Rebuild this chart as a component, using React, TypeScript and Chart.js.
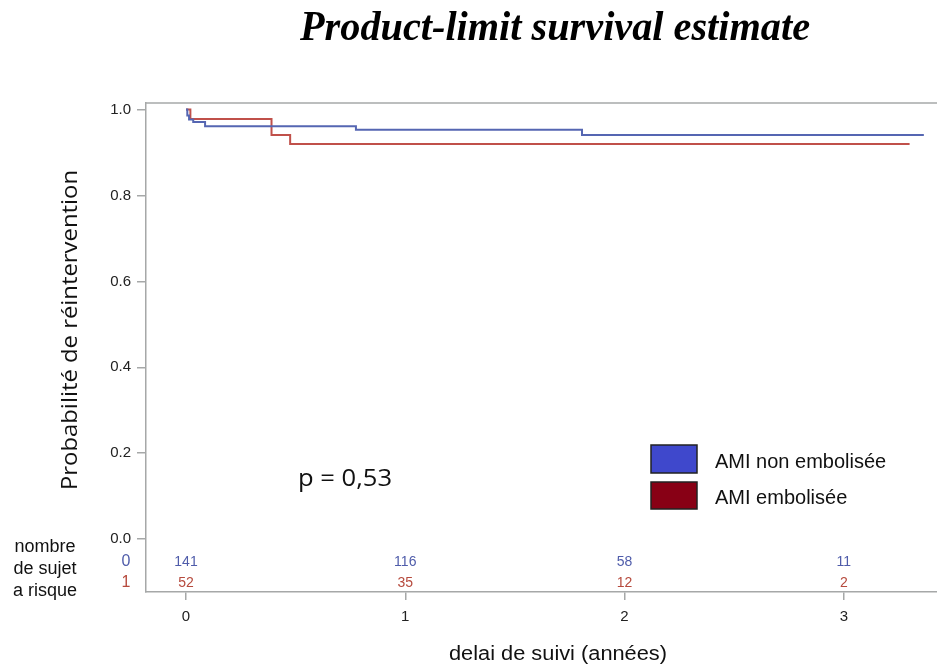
import { useEffect, useRef } from 'react';
import { Chart, registerables } from 'chart.js';
Chart.register(...registerables);

const W = 937;
const H = 670;

// Kaplan-Meier step data (time in years, survival probability)
const blueTimes = [0, 0.006, 0.014, 0.033, 0.087, 0.775, 1.806, 3.365];
const blueSurv = [1.0, 0.986, 0.977, 0.971, 0.961, 0.953, 0.941, 0.941];
const redTimes = [0, 0.02, 0.39, 0.475, 3.3];
const redSurv = [1.0, 0.978, 0.941, 0.92, 0.92];

const seriesLabels = ['AMI non embolisée', 'AMI embolisée'];
const groupCodes = ['0', '1'];

// Number at risk
const riskTimes = [0, 1, 2, 3];
const riskBlue = [141, 116, 58, 11];
const riskRed = [52, 35, 12, 2];

const yTicks = [0, 0.2, 0.4, 0.6, 0.8, 1.0];

const lineColors = ['#5566b2', '#c0504a'];
const riskColors = ['#4f5caa', '#b64a3d'];
const legendColors = ['#3f48cc', '#880015'];
const axisColor = '#a6a8a8';

const SANS = '"Liberation Sans", Arial, sans-serif';
const OPEN = '"Open Sans", "Noto Sans", sans-serif';
const SERIF = '"Liberation Serif", "Times New Roman", serif';

function fitText(ctx: CanvasRenderingContext2D, text: string, cx: number, cy: number, targetW: number, rotate = 0) {
  const w = ctx.measureText(text).width;
  const sx = targetW / w;
  ctx.save();
  ctx.translate(cx, cy);
  if (rotate) ctx.rotate(rotate);
  ctx.scale(sx, 1);
  ctx.textAlign = 'center';
  ctx.textBaseline = 'middle';
  ctx.fillText(text, 0, 0);
  ctx.restore();
}

const decorPlugin = {
  id: 'decor',
  afterDraw(chart: any) {
    const ctx: CanvasRenderingContext2D = chart.ctx;
    const area = chart.chartArea;
    const xs = chart.scales.x;
    ctx.save();

    // top frame line
    ctx.strokeStyle = axisColor;
    ctx.lineWidth = 1.5;
    ctx.beginPath();
    ctx.moveTo(area.left, area.top);
    ctx.lineTo(W, area.top);
    ctx.stroke();

    // title
    ctx.fillStyle = '#000';
    ctx.font = `italic bold 43px ${SERIF}`;
    fitText(ctx, 'Product-limit survival estimate', 555, 29, 510);

    // y title
    ctx.fillStyle = '#111';
    ctx.font = `22px ${OPEN}`;
    fitText(ctx, 'Probabilité de réintervention', 71, 330, 320, -Math.PI / 2);

    // x title
    ctx.font = `20px ${SANS}`;
    fitText(ctx, 'delai de suivi (années)', 558, 654, 218);

    // p-value
    ctx.font = `24px ${OPEN}`;
    fitText(ctx, 'p = 0,53', 345, 479, 94);

    // risk table left labels
    ctx.fillStyle = '#111';
    ctx.font = `18px ${SANS}`;
    ctx.textAlign = 'center';
    ctx.textBaseline = 'middle';
    ctx.fillText('nombre', 45, 547);
    ctx.fillText('de sujet', 45, 569);
    ctx.fillText('a risque', 45, 591);

    // group codes
    ctx.font = `16px ${SANS}`;
    ctx.fillStyle = riskColors[0];
    ctx.fillText(groupCodes[0], 126, 562);
    ctx.fillStyle = riskColors[1];
    ctx.fillText(groupCodes[1], 126, 583);

    // risk numbers
    ctx.font = `14px ${SANS}`;
    riskTimes.forEach((t, i) => {
      const px = xs.getPixelForValue(t);
      ctx.fillStyle = riskColors[0];
      ctx.fillText(String(riskBlue[i]), px, 562);
      ctx.fillStyle = riskColors[1];
      ctx.fillText(String(riskRed[i]), px, 583);
    });

    // legend
    const boxes = [
      { y: 445, h: 28, ty: 462 },
      { y: 482, h: 27, ty: 498 },
    ];
    chart.data.datasets.forEach((ds: any, i: number) => {
      const b = boxes[i];
      ctx.fillStyle = legendColors[i];
      ctx.fillRect(651, b.y, 46, b.h);
      ctx.strokeStyle = '#222';
      ctx.lineWidth = 1.5;
      ctx.strokeRect(651, b.y, 46, b.h);
      ctx.fillStyle = '#111';
      ctx.font = `20px ${SANS}`;
      ctx.textAlign = 'left';
      ctx.textBaseline = 'middle';
      ctx.fillText(ds.label, 715, b.ty);
    });

    ctx.restore();
  },
};

export default function App() {
  const ref = useRef<HTMLCanvasElement>(null);
  useEffect(() => {
    const c = ref.current!;
    const chart = new Chart(c, {
      type: 'line',
      data: {
        datasets: [
          {
            label: seriesLabels[0],
            data: blueTimes.map((t, i) => ({ x: t, y: blueSurv[i] })),
            borderColor: lineColors[0],
            borderWidth: 2,
            stepped: 'before',
            pointRadius: 0,
            fill: false,
          },
          {
            label: seriesLabels[1],
            data: redTimes.map((t, i) => ({ x: t, y: redSurv[i] })),
            borderColor: lineColors[1],
            borderWidth: 2,
            stepped: 'before',
            pointRadius: 0,
            fill: false,
          },
        ],
      },
      options: {
        responsive: false,
        animation: false,
        layout: { padding: { top: 103, left: 0, right: 0, bottom: 0 } },
        plugins: { legend: { display: false }, tooltip: { enabled: false }, title: { display: false } },
        scales: {
          x: {
            type: 'linear',
            min: -0.1824,
            max: 3.425,
            afterBuildTicks: (s: any) => {
              s.ticks = riskTimes.map((v) => ({ value: v }));
            },
            afterFit: (s: any) => {
              s.height = 78;
            },
            grid: { drawOnChartArea: false, drawTicks: true, tickLength: 8, color: axisColor, lineWidth: 1.5 },
            border: { display: true, color: axisColor, width: 1.5 },
            ticks: {
              font: { family: SANS, size: 15 },
              color: '#222',
              padding: 8,
              maxRotation: 0,
              callback: (v: any) => String(v),
            },
          },
          y: {
            type: 'linear',
            min: -0.1233,
            max: 1.0153,
            afterBuildTicks: (s: any) => {
              s.ticks = yTicks.map((v) => ({ value: v }));
            },
            afterFit: (s: any) => {
              s.width = 146;
            },
            grid: { drawOnChartArea: false, drawTicks: true, tickLength: 9, color: axisColor, lineWidth: 1.5 },
            border: { display: true, color: axisColor, width: 1.5 },
            ticks: {
              font: { family: SANS, size: 15 },
              color: '#222',
              padding: 6,
              callback: (v: any) => Number(v).toFixed(1),
            },
          },
        },
      },
      plugins: [decorPlugin],
    } as any);
    return () => chart.destroy();
  }, []);
  return (
    <div style={{ position: 'fixed', left: 0, top: 0, width: W, height: H, overflow: 'hidden', background: '#fff' }}>
      <canvas ref={ref} width={W} height={H} style={{ display: 'block' }} />
    </div>
  );
}
